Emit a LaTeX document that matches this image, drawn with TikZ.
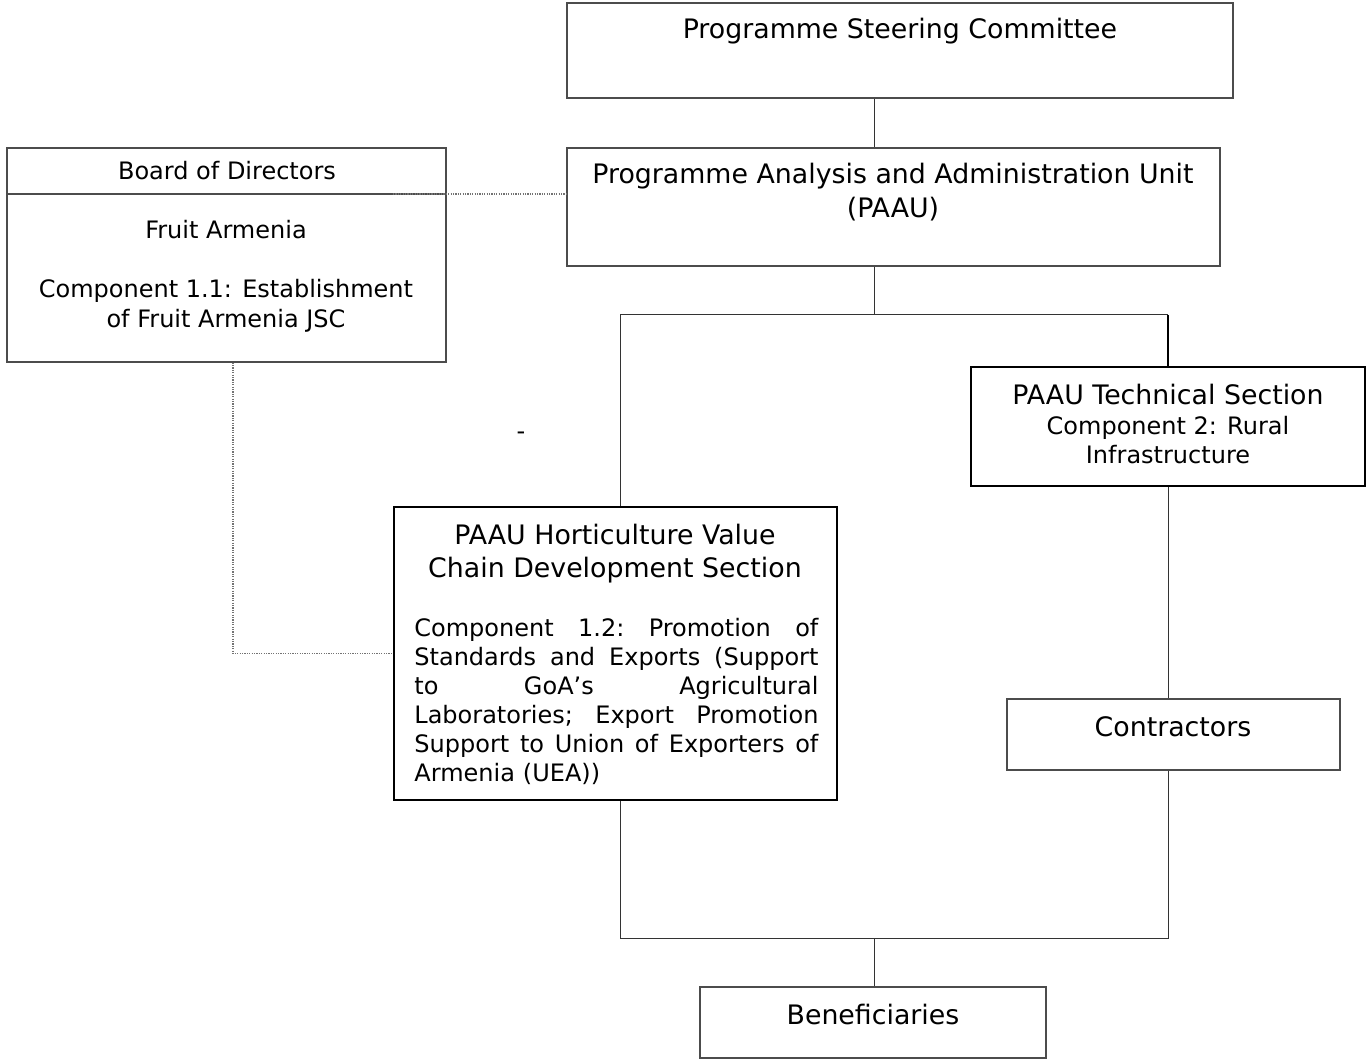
\documentclass[tikz,border=0pt]{standalone}
\usepackage{fontspec}
\setmainfont{DejaVu Sans}
\usetikzlibrary{fit}
\newcommand\bigf{\fontsize{13.4pt}{16.5pt}\selectfont}
\newcommand\smallf{\fontsize{12pt}{14.5pt}\selectfont}
\newcommand\tinyf{\fontsize{5pt}{6pt}\selectfont}
\newcommand\jline[1]{\hbox to 202pt{\frenchspacing\spaceskip=0.318em plus 1fil\xspaceskip=0.318em plus 1fil\relax #1}}
\begin{document}
\begin{tikzpicture}[x=0.5pt,y=-0.5pt,
  box/.style={draw=black!70,line width=0.6pt,inner sep=0pt},
  thickbox/.style={draw=black,line width=1.1pt,inner sep=0pt},
  txt/.style={anchor=base,inner sep=0pt},
  conn/.style={draw=black!80,line width=0.5pt},
  thickconn/.style={draw=black,line width=1pt},
  dotline/.style={draw=black!55,line width=0.6pt,dash pattern=on 0.6pt off 0.6pt}]
\useasboundingbox (0,0) rectangle (1372,1064);
% boxes
\node[box,fit={(567,3) (1233,98)}] (psc) {};
\node[box,fit={(567,148) (1220,266)}] (paau) {};
\node[box,fit={(7,148) (446,362)}] (bod) {};
\node[thickbox,fit={(394,507) (837,800)}] (hort) {};
\node[thickbox,fit={(971,367) (1365,486)}] (tech) {};
\node[box,fit={(1007,699) (1340,770)}] (contr) {};
\node[box,fit={(700,987) (1046,1058)}] (benef) {};
% helper coordinates
\coordinate (bdl) at (446,194);
\coordinate (j1) at (874,315);
\coordinate (j2) at (874,938);
\coordinate (hx) at (620,0);
% board divider
\draw[box] (bod.west |- bdl) -- (bdl);
% texts
\node[txt,font=\bigf] (tpsc) at (900,39) {Programme Steering Committee};
\node[txt,font=\bigf] (tpaau1) at (893,184) {Programme Analysis and Administration Unit};
\node[txt,font=\bigf] (tpaau2) at (893,218) {(PAAU)};
\node[txt,font=\tinyf] (tdot) at (895,178) {.};
\node[txt,font=\smallf] (tbod) at (227,180) {Board of Directors};
\node[txt,font=\smallf] (tfa) at (226,239) {Fruit Armenia};
\node[txt,font=\smallf] (tc11a) at (226,298) {Component 1.1: Establishment};
\node[txt,font=\smallf] (tc11b) at (226,328) {of Fruit Armenia JSC};
\node[txt,font=\smallf] (tdash) at (521,440) {-};
\node[txt,font=\bigf] (th1) at (615,545) {PAAU Horticulture Value};
\node[txt,font=\bigf] (th2) at (615,577) {Chain Development Section};
\node[anchor=base west,inner sep=0pt,text width=202pt,align=left,font=\smallf] (thb) at (414,636)
 {\jline{Component 1.2: Promotion of}
  \jline{Standards and Exports (Support}
  \jline{to GoA’s Agricultural}
  \jline{Laboratories; Export Promotion}
  \jline{Support to Union of Exporters of}
  \hbox{Armenia (UEA))}};
\node[txt,font=\bigf] (tt1) at (1168,405) {PAAU Technical Section};
\node[txt,font=\smallf] (tt2) at (1168,435) {Component 2: Rural};
\node[txt,font=\smallf] (tt3) at (1168,464) {Infrastructure};
\node[txt,font=\bigf] (tcon) at (1173,736) {Contractors};
\node[txt,font=\bigf] (tben) at (873,1024) {Beneficiaries};
% connectors
\draw[conn] (j1 |- psc.south) -- (j1 |- paau.north);
\draw[conn] (j1 |- paau.south) -- (j1);
\draw[conn] (hx |- hort.north) -- (hx |- j1) -- (tech.north |- j1);
\draw[thickconn] (tech.north |- j1) -- (tech.north);
\draw[conn] (tech.south) -- (tech.south |- contr.north);
\draw[conn] (tech.south |- contr.south) -- (tech.south |- j2) -- (hx |- j2) -- (hx |- hort.south);
\draw[conn] (j2) -- (j2 |- benef.north);
% dotted links
\draw[dotline] ([xshift=-26.5pt]bdl) -- (bdl -| paau.west);
\draw[dotline] ([xshift=3.25pt]bod.south) |- (hort.west);
\end{tikzpicture}
\end{document}
